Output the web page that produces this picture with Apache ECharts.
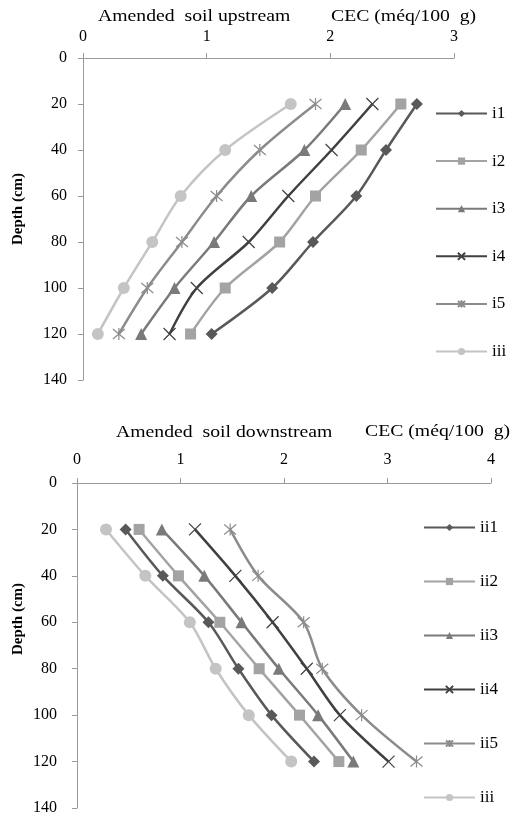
<!DOCTYPE html>
<html><head><meta charset="utf-8">
<script src="https://cdn.jsdelivr.net/npm/echarts@6/dist/echarts.min.js"></script>
<style>html,body{margin:0;padding:0;background:#fff}#c{width:512px;height:820px}</style>
</head><body><div id="c"></div>
<script>
const depths = [20, 40, 60, 80, 100, 120];
const upNames = ['i1', 'i2', 'i3', 'i4', 'i5', 'iii'];
const up_i1 = [2.70, 2.45, 2.21, 1.86, 1.53, 1.04];
const up_i2 = [2.57, 2.25, 1.88, 1.59, 1.15, 0.87];
const up_i3 = [2.12, 1.79, 1.36, 1.06, 0.74, 0.47];
const up_i4 = [2.34, 2.01, 1.66, 1.34, 0.92, 0.70];
const up_i5 = [1.88, 1.43, 1.08, 0.80, 0.52, 0.29];
const up_iii = [1.68, 1.15, 0.79, 0.56, 0.33, 0.12];
const downNames = ['ii1', 'ii2', 'ii3', 'ii4', 'ii5', 'iii '];
const dn_ii1 = [0.47, 0.83, 1.27, 1.56, 1.88, 2.29];
const dn_ii2 = [0.60, 0.98, 1.38, 1.76, 2.15, 2.53];
const dn_ii3 = [0.82, 1.23, 1.59, 1.95, 2.33, 2.67];
const dn_ii4 = [1.14, 1.53, 1.89, 2.22, 2.54, 3.01];
const dn_ii5 = [1.48, 1.75, 2.19, 2.37, 2.75, 3.28];
const dn_iii = [0.28, 0.66, 1.09, 1.34, 1.66, 2.07];
const upTicks = [0, 1, 2, 3];
const downTicks = [0, 1, 2, 3, 4];
const depthTicks = [0, 20, 40, 60, 80, 100, 120, 140];

const FONT = '"Liberation Serif", "DejaVu Serif", serif';
const styles = [
  {color: '#595959', symbol: 'diamond', size: 12},
  {color: '#a3a3a3', symbol: 'rect', size: 11},
  {color: '#7a7a7a', symbol: 'triangle', size: 12},
  {color: '#404040', symbol: 'path://M0,0L10,10M10,0L0,10', size: 12},
  {color: '#8c8c8c', symbol: 'path://M0,0L10,10M10,0L0,10M5,-1L5,11', size: 12},
  {color: '#c4c4c4', symbol: 'circle', size: 12}
];
function mk(name, vals, i, gi) {
  const s = styles[i];
  const isPath = s.symbol.startsWith('path');
  return {
    name: name, type: 'line', xAxisIndex: gi, yAxisIndex: gi,
    data: vals.map((v, k) => [v, depths[k]]),
    smooth: 0.3, symbol: s.symbol, symbolSize: s.size,
    lineStyle: {color: s.color, width: 2.5},
    itemStyle: {color: s.color, borderColor: s.color, borderWidth: isPath ? 1.2 : 0},
    emphasis: {disabled: true}, animation: false
  };
}
const upVals = [up_i1, up_i2, up_i3, up_i4, up_i5, up_iii];
const dnVals = [dn_ii1, dn_ii2, dn_ii3, dn_ii4, dn_ii5, dn_iii];
const series = [];
upNames.forEach((n, i) => series.push(mk(n, upVals[i], i, 0)));
downNames.forEach((n, i) => series.push(mk(n, dnVals[i], i, 1)));

const axisLine = {show: true, lineStyle: {color: '#9a9a9a', width: 1}};
function xAx(gi, ticks, margin) {
  return {type: 'value', gridIndex: gi, position: 'top', min: ticks[0], max: ticks[ticks.length - 1], interval: 1,
    axisLine: axisLine, axisTick: {show: true, length: 5, lineStyle: {color: '#9a9a9a'}},
    splitLine: {show: false},
    axisLabel: {color: '#000', fontFamily: FONT, fontSize: 16, margin: margin}};
}
function yAx(gi, margin) {
  return {type: 'value', gridIndex: gi, inverse: true, min: depthTicks[0], max: depthTicks[depthTicks.length - 1], interval: 20,
    axisLine: axisLine, axisTick: {show: true, length: 5, lineStyle: {color: '#9a9a9a'}},
    splitLine: {show: false},
    axisLabel: {color: '#000', fontFamily: FONT, fontSize: 16, margin: margin}};
}
function title(txt, x, y) {
  return {type: 'text', x: x, y: y, scaleX: 1.16, originX: 0, originY: 0,
    style: {text: txt, font: '17px ' + FONT, fill: '#000', align: 'left', verticalAlign: 'top'}};
}
const chart = echarts.init(document.getElementById('c'), null, {renderer: 'canvas'});
chart.setOption({
  backgroundColor: '#fff',
  animation: false,
  grid: [
    {left: 83, top: 58, width: 371, height: 322},
    {left: 77, top: 483, width: 414, height: 325}
  ],
  xAxis: [xAx(0, upTicks, 13), xAx(1, downTicks, 15)],
  yAxis: [yAx(0, 16), yAx(1, 20)],
  legend: [
    {data: upNames, orient: 'vertical', left: 435, top: 105, padding: 0, itemWidth: 51, itemHeight: 9, itemGap: 30.6,
      textStyle: {fontFamily: FONT, fontSize: 17, color: '#000', lineHeight: 16}, selectedMode: false},
    {data: downNames, orient: 'vertical', left: 423, top: 519, padding: 0, itemWidth: 51, itemHeight: 9, itemGap: 37,
      textStyle: {fontFamily: FONT, fontSize: 17, color: '#000', lineHeight: 16}, selectedMode: false}
  ],
  graphic: [
    title('Amended  soil upstream', 98, 8),
    title('CEC (méq/100  g)', 331, 8),
    title('Amended  soil downstream', 116, 424),
    title('CEC (méq/100  g)', 365, 423),
    {type: 'text', x: 11, y: 245, rotation: Math.PI / 2, style: {text: 'Depth (cm)', font: 'bold 15px ' + FONT, fill: '#000'}},
    {type: 'text', x: 11, y: 655, rotation: Math.PI / 2, style: {text: 'Depth (cm)', font: 'bold 15px ' + FONT, fill: '#000'}}
  ],
  series: series
});
</script></body></html>
